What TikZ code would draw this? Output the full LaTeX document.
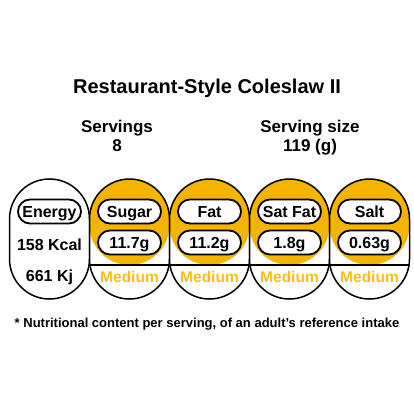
\documentclass[tikz,border=0pt]{standalone}
\usepackage{fontspec}
\setmainfont{Liberation Sans}
\usetikzlibrary{positioning}
\definecolor{amber}{HTML}{F5B400}
\definecolor{amberlight}{HTML}{FCC114}
\newcommand{\labfont}{\fontsize{16}{19}\selectfont\bfseries}

\begin{document}
\begin{tikzpicture}[x=1pt, y=1pt,
  every node/.style={inner sep=0pt, outer sep=0pt, text depth=0pt},
  capsule/.style={rectangle, rounded corners=40pt, minimum width=80pt, minimum height=120pt, draw=black, line width=1.5pt, fill=white},
  band/.style={capsule, path picture={
    \fill[amber] (path picture bounding box.north west) rectangle ([yshift=-86pt]path picture bounding box.north east);
    \draw[line width=1.5pt] ([yshift=-86pt]path picture bounding box.north west) -- ([yshift=-86pt]path picture bounding box.north east);
  }},
  pill/.style={rectangle, rounded corners=12pt, minimum width=63pt, minimum height=24pt, draw=black, line width=1.8pt, fill=white, font=\labfont, text height=11.5pt},
  plain/.style={font=\labfont, text height=11.5pt},
  level/.style={font=\fontsize{15.5}{18}\selectfont\bfseries, text height=11.1pt, text=amberlight},
]
\useasboundingbox (0,0) rectangle (414,-414);

% Heading
\node[font=\fontsize{20}{24}\selectfont\bfseries, text height=14.3pt] (title) at (207,-86) {Restaurant-Style Coleslaw II};
\node[font=\fontsize{17}{20}\selectfont\bfseries, text height=12.2pt] (servings) at (117,-126) {Servings};
\node[font=\fontsize{17}{20}\selectfont\bfseries, text height=12.2pt, below=7.3pt of servings] (count) {8};
\node[font=\fontsize{17}{20}\selectfont\bfseries, text height=12.2pt] (size) at (310,-126) {Serving size};
\node[font=\fontsize{17}{20}\selectfont\bfseries, text height=12.2pt, below=7.3pt of size] (grams) {119 (g)};

% Energy
\node[capsule] (energy) at (49.5,-239) {};
\node[pill, below=20.5pt of energy.north] (energylab) {Energy};
\node[plain, below=15.8pt of energylab] (kcal) {158 Kcal};
\node[plain, below=19.6pt of kcal] (kj) {661 Kj};

% Sugar
\node[band, right=0pt of energy] (sugar) {};
\node[pill, below=20.5pt of sugar.north] (sugarlab) {Sugar};
\node[pill, below=7pt of sugarlab] (sugarval) {11.7g};
\node[level, below=17pt of sugarval] (sugarlvl) {Medium};

% Fat
\node[band, right=0pt of sugar] (fat) {};
\node[pill, below=20.5pt of fat.north] (fatlab) {Fat};
\node[pill, below=7pt of fatlab] (fatval) {11.2g};
\node[level, below=17pt of fatval] (fatlvl) {Medium};

% Saturated fat
\node[band, right=0pt of fat] (satfat) {};
\node[pill, below=20.5pt of satfat.north] (satfatlab) {Sat Fat};
\node[pill, below=7pt of satfatlab] (satfatval) {1.8g};
\node[level, below=17pt of satfatval] (satfatlvl) {Medium};

% Salt
\node[band, right=0pt of satfat] (salt) {};
\node[pill, below=20.5pt of salt.north] (saltlab) {Salt};
\node[pill, below=7pt of saltlab] (saltval) {0.63g};
\node[level, below=17pt of saltval] (saltlvl) {Medium};

% Footnote
\node[font=\fontsize{13}{15}\selectfont\bfseries, text height=9.3pt] (note) at (207,-323.3) {* Nutritional content per serving, of an adult\symbol{39}s reference intake};

\end{tikzpicture}
\end{document}
